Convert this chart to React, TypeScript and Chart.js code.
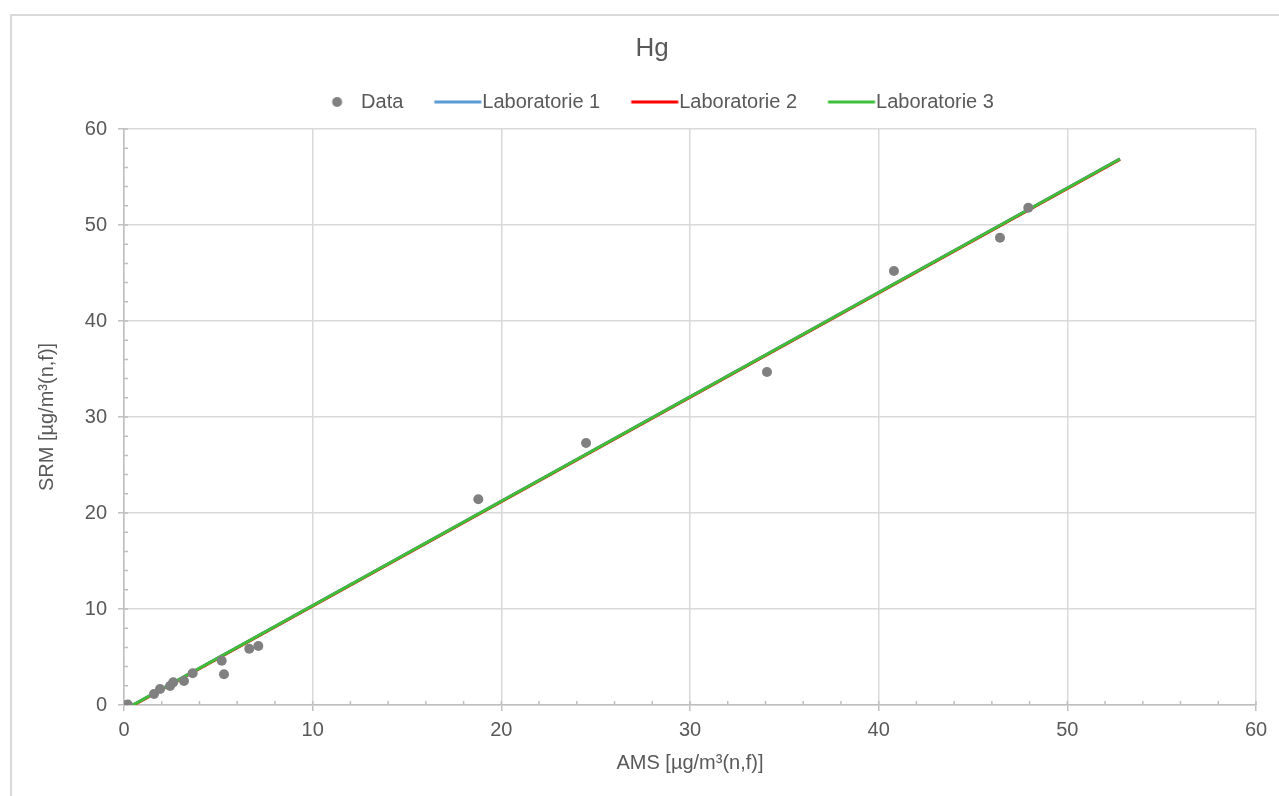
import React, { useEffect, useRef } from "react";
import { Chart, registerables } from "chart.js";

Chart.register(...registerables);

// ---- data ----
const TITLE = "Hg";
const X_TITLE = "AMS [µg/m³(n,f)]";
const Y_TITLE = "SRM [µg/m³(n,f)]";
const SERIES_NAMES = ["Data", "Laboratorie 1", "Laboratorie 2", "Laboratorie 3"];

const AMS = [0.12, 0.2, 1.59, 1.91, 2.44, 2.61, 3.18, 3.64, 5.18, 5.3, 6.64, 7.12, 18.78, 24.49, 34.08, 40.81, 46.43, 47.93];
const SRM = [0.0, 0.05, 1.15, 1.67, 1.98, 2.36, 2.5, 3.3, 4.61, 3.2, 5.86, 6.15, 21.43, 27.29, 34.69, 45.2, 48.68, 51.8];

const LAB1_X = [0, 52.79];
const LAB1_Y = [-0.51, 56.89];
const LAB2_X = [0, 52.79];
const LAB2_Y = [-0.56, 56.84];
const LAB3_X = [0, 52.79];
const LAB3_Y = [-0.52, 56.88];

const X_MIN = 0, X_MAX = 60, X_STEP = 10, X_MINOR = 2;
const Y_MIN = 0, Y_MAX = 60, Y_STEP = 10, Y_MINOR = 2;

const COLORS = ["#808080", "#5b9bd5", "#ff0000", "#3dbf3a"];
const TEXT = "#595959";
const GRID = "#d9d9d9";
const AXIS = "#bfbfbf";

function pts(xs: number[], ys: number[]) {
  return xs.map((x, i) => ({ x, y: ys[i] }));
}

function makeMarker(kind: "dot" | "line", color: string) {
  const c = document.createElement("canvas");
  c.width = 80;
  c.height = 12;
  const g = c.getContext("2d")!;
  g.fillStyle = color;
  if (kind === "dot") {
    g.beginPath();
    g.arc(46.5, 6, 5, 0, Math.PI * 2);
    g.fill();
  } else {
    g.fillRect(22.5, 4.5, 47, 3);
  }
  return c;
}

const minorTicks = {
  id: "minorTicks",
  beforeDatasetsDraw(chart: any) {
    const { ctx, scales } = chart;
    const xs = scales.x;
    const ys = scales.y;
    ctx.save();
    ctx.strokeStyle = AXIS;
    ctx.lineWidth = 1.5;
    ctx.beginPath();
    for (let v = X_MIN; v <= X_MAX + 1e-9; v += X_MINOR) {
      const px = xs.getPixelForValue(v);
      ctx.moveTo(px, ys.bottom);
      ctx.lineTo(px, ys.bottom - 4);
    }
    for (let v = Y_MIN; v <= Y_MAX + 1e-9; v += Y_MINOR) {
      const py = ys.getPixelForValue(v);
      ctx.moveTo(xs.left, py);
      ctx.lineTo(xs.left + 4, py);
    }
    ctx.stroke();
    ctx.restore();
  },
};

export default function App() {
  const ref = useRef<HTMLCanvasElement>(null);

  useEffect(() => {
    if (!ref.current) return;
    Chart.defaults.font.family = "'Liberation Sans', Arial, sans-serif";
    const markers = [
      makeMarker("dot", COLORS[0]),
      makeMarker("line", COLORS[1]),
      makeMarker("line", COLORS[2]),
      makeMarker("line", COLORS[3]),
    ];
    const chart = new Chart(ref.current, {
      type: "scatter",
      data: {
        datasets: [
          {
            label: SERIES_NAMES[0],
            data: pts(AMS, SRM),
            showLine: false,
            pointRadius: 5,
            pointBackgroundColor: COLORS[0],
            pointBorderWidth: 0,
            order: 0,
          },
          {
            label: SERIES_NAMES[1],
            data: pts(LAB1_X, LAB1_Y),
            showLine: true,
            borderColor: COLORS[1],
            borderWidth: 3,
            pointRadius: 0,
            order: 3,
          },
          {
            label: SERIES_NAMES[2],
            data: pts(LAB2_X, LAB2_Y),
            showLine: true,
            borderColor: COLORS[2],
            borderWidth: 3,
            pointRadius: 0,
            order: 2,
          },
          {
            label: SERIES_NAMES[3],
            data: pts(LAB3_X, LAB3_Y),
            showLine: true,
            borderColor: COLORS[3],
            borderWidth: 3,
            pointRadius: 0,
            order: 1,
          },
        ] as any,
      },
      options: {
        animation: false,
        responsive: false,
        events: [],
        layout: { padding: { left: 0, right: 0, top: 0, bottom: 0 } },
        plugins: {
          tooltip: { enabled: false },
          title: {
            display: true,
            text: TITLE,
            color: TEXT,
            font: { size: 26, weight: "normal" as any, lineHeight: 1.2 },
            padding: { top: 32.8, bottom: 0 },
          },
          subtitle: {
            display: true,
            text: "",
            weight: 500,
            font: { size: 1, lineHeight: 1 },
            padding: { top: 6, bottom: 0 },
          },
          legend: {
            display: true,
            position: "top",
            labels: {
              usePointStyle: true,
              pointStyleWidth: 41,
              padding: 28,
              color: TEXT,
              font: { size: 20 },
              generateLabels: (c: any) =>
                c.data.datasets.map((ds: any, i: number) => ({
                  text: ds.label,
                  pointStyle: markers[i],
                  fillStyle: COLORS[i],
                  strokeStyle: COLORS[i],
                  lineWidth: 0,
                  hidden: false,
                  datasetIndex: i,
                  fontColor: TEXT,
                })),
            },
          },
        },
        scales: {
          x: {
            type: "linear",
            min: X_MIN,
            max: X_MAX,
            afterFit: (s: any) => {
              s.height = 91;
              s.paddingRight = 48;
            },
            ticks: { stepSize: X_STEP, color: TEXT, font: { size: 20 }, padding: 7 },
            grid: { color: GRID, lineWidth: 1.5, tickColor: AXIS, tickLength: 6, tickWidth: 1.5 },
            border: { color: AXIS, width: 1.5 },
            title: {
              display: true,
              text: X_TITLE,
              color: TEXT,
              font: { size: 20, lineHeight: 1.2 },
              padding: { top: 0, bottom: 21 },
            },
          },
          y: {
            type: "linear",
            min: Y_MIN,
            max: Y_MAX,
            afterFit: (s: any) => {
              s.width = 124;
            },
            ticks: { stepSize: Y_STEP, color: TEXT, font: { size: 20 }, padding: 11 },
            grid: { color: GRID, lineWidth: 1.5, tickColor: AXIS, tickLength: 6, tickWidth: 1.5 },
            border: { color: AXIS, width: 1.5 },
            title: {
              display: true,
              text: Y_TITLE,
              color: TEXT,
              font: { size: 20, lineHeight: 1.2 },
              padding: { top: 35, bottom: 0 },
            },
          },
        },
      } as any,
      plugins: [minorTicks],
    });
    return () => chart.destroy();
  }, []);

  return (
    <div
      style={{
        position: "fixed",
        left: 0,
        top: 0,
        width: 1279,
        height: 796,
        overflow: "hidden",
        background: "#fff",
      }}
    >
      <div
        style={{
          position: "absolute",
          left: 10,
          top: 14,
          width: 1300,
          height: 800,
          borderLeft: "2px solid #d9d9d9",
          borderTop: "2px solid #d9d9d9",
        }}
      />
      <canvas
        ref={ref}
        width={1304}
        height={796}
        style={{ position: "absolute", left: 0, top: 0, display: "block" }}
      />
    </div>
  );
}
